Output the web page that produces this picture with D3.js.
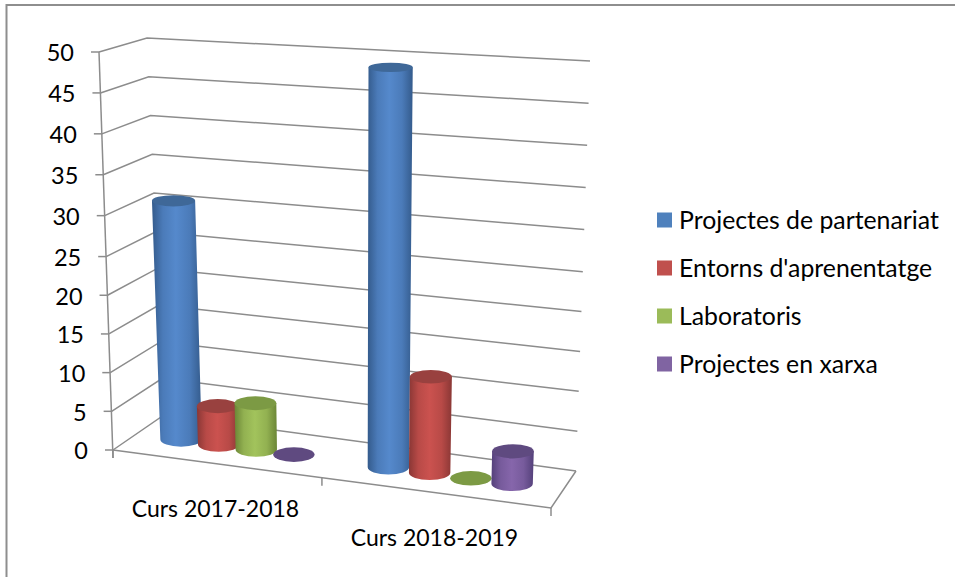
<!DOCTYPE html>
<html>
<head>
<meta charset="utf-8">
<script src="https://cdn.jsdelivr.net/npm/d3@7"></script>
<style>
  html, body { margin: 0; padding: 0; background: #fff; }
  svg { display: block; }
  text { font-family: Lato, "Open Sans", sans-serif; fill: #000; }
</style>
</head>
<body>
<svg class="chart"></svg>
<script>
var categories = ["Curs 2017-2018", "Curs 2018-2019"];
var seriesNames = ["Projectes de partenariat", "Entorns d'aprenentatge", "Laboratoris", "Projectes en xarxa"];
var partenariat = [31, 49];
var entorns = [5, 12];
var laboratoris = [6, 0];
var xarxa = [0, 4];
var yTicks = [0, 5, 10, 15, 20, 25, 30, 35, 40, 45, 50];

var seriesValues = [partenariat, entorns, laboratoris, xarxa];

// side, centre and lid colour of each cylinder
var edgeColors = ["#345b8c", "#8a3735", "#6b8636", "#54407a"];
var midColors = ["#5589cc", "#cb524f", "#a2c35c", "#8666ab"];
var lidColors = ["#3f6898", "#99413f", "#7c9a44", "#5f4a80"];
var keyColors = ["#4f81bd", "#c0504d", "#9bbb59", "#8064a2"];

var svgWidth = 955, svgHeight = 577;
var lineColor = "#8c8c8c";
var barDepth = 0.47;

var svg = d3.select("svg.chart")
    .attr("width", svgWidth)
    .attr("height", svgHeight);

// corners of the box: fl = front left, fr = front right, br, bl are the back ones
var floor = { fl: [113, 450], fr: [551, 508], br: [576, 471], bl: [164, 415] };
var roof = { fl: [99, 52], fr: [566, 75], br: [590, 61], bl: [147, 38] };

// the value axis is a little compressed towards the floor
var heightScale = d3.scaleLinear().domain([0, 25, 50]).range([0, 0.486, 1]);
// the first category takes a bit less than half of the floor
var depthX = d3.scaleLinear().domain([0, 0.5, 1]).range([0, 0.477, 1]);

function bilinear(q, u, v) {
    return [0, 1].map(function (i) {
        var front = q.fl[i] + (q.fr[i] - q.fl[i]) * u;
        var back = q.bl[i] + (q.br[i] - q.bl[i]) * u;
        return front + (back - front) * v;
    });
}

// u across the floor, v into the depth, value up the wall
function project(u, v, value) {
    var a = bilinear(floor, u, v), b = bilinear(roof, u, v), t = heightScale(value);
    return [a[0] + (b[0] - a[0]) * t, a[1] + (b[1] - a[1]) * t];
}

function seg(a, b) {
    return "M" + a[0] + "," + a[1] + "L" + b[0] + "," + b[1];
}

var xScale = d3.scaleBand().domain(categories).range([0, 1]);
var seriesScale = d3.scaleBand().domain(seriesNames).range([0, 1])
    .paddingInner(0).paddingOuter(0.7).align(0.48);
var ryScale = d3.scaleLinear().domain([0, 50]).range([7.3, 4.6]);

// frame, only top and left are visible
svg.append("path")
    .attr("d", "M955,5H6.5V577")
    .attr("fill", "none")
    .attr("stroke", "#8e8e8e")
    .attr("stroke-width", 2);

// gridlines on side wall and back wall
var grid = svg.append("g")
    .attr("fill", "none")
    .attr("stroke", lineColor)
    .attr("stroke-width", 1.5);

grid.selectAll("path.wall")
    .data(yTicks)
    .enter()
    .append("path")
    .attr("class", "wall")
    .attr("d", function (d) {
        var a = project(0, 0, d), b = project(0, 1, d), c = project(1, 1, d);
        return "M" + a + "L" + b + "L" + c;
    });

// value axis line and floor edges
grid.append("path").attr("d", seg(project(0, 0, 50), [floor.fl[0], floor.fl[1] + 8]));
grid.append("path").attr("d", "M" + floor.fl + "L" + floor.fr + "L" + floor.br);

// small ticks under the front edge
grid.selectAll("path.xtick")
    .data([0, 0.5, 1])
    .enter()
    .append("path")
    .attr("class", "xtick")
    .attr("d", function (d) {
        var p = project(depthX(d), 0, 0);
        return seg(p, [p[0], p[1] + 8]);
    });

// value axis, the ticks follow the tilted line
var yAxis = d3.axisLeft(d3.scaleLinear().domain([0, 50]).range([0, 1]))
    .tickValues(yTicks)
    .tickSize(8)
    .tickPadding(17);

var axisG = svg.append("g").call(yAxis);
axisG.select(".domain").remove();
axisG.selectAll(".tick")
    .attr("transform", function (d) { return "translate(" + project(0, 0, d) + ")"; });
axisG.selectAll(".tick line")
    .attr("stroke", lineColor)
    .attr("stroke-width", 1.5);
axisG.selectAll(".tick text")
    .style("font-family", "Lato")
    .style("font-size", "23.5px")
    .attr("dy", "0.4em")
    .attr("fill", "#000");

// cylinder shading
var defs = svg.append("defs");
seriesNames.forEach(function (name, s) {
    var soft = d3.interpolateRgb(edgeColors[s], midColors[s])(0.7);
    var grad = defs.append("linearGradient").attr("id", "cyl" + s);
    grad.append("stop").attr("offset", "0%").attr("stop-color", edgeColors[s]);
    grad.append("stop").attr("offset", "22%").attr("stop-color", soft);
    grad.append("stop").attr("offset", "48%").attr("stop-color", midColors[s]);
    grad.append("stop").attr("offset", "76%").attr("stop-color", soft);
    grad.append("stop").attr("offset", "100%").attr("stop-color", edgeColors[s]);
});

var bars = [];
categories.forEach(function (cat, c) {
    seriesNames.forEach(function (name, s) {
        bars.push({ cat: cat, series: name, s: s, value: seriesValues[s][c] });
    });
});

function barU(d) {
    return depthX(xScale(d.cat) + xScale.bandwidth() * (seriesScale(d.series) + seriesScale.step() / 2));
}

// same radius in both categories, only growing with the height
function radius(value) {
    var a = project(0, barDepth, value), b = project(1, barDepth, value);
    return (b[0] - a[0]) * xScale.bandwidth() * seriesScale.step() / 2 * 1.05;
}

var cyl = svg.selectAll("g.cyl")
    .data(bars)
    .enter()
    .append("g")
    .attr("class", "cyl");

cyl.filter(function (d) { return d.value > 0; })
    .append("path")
    .attr("fill", function (d) { return "url(#cyl" + d.s + ")"; })
    .attr("d", function (d) {
        var base = project(barU(d), barDepth, 0), top = project(barU(d), barDepth, d.value);
        var rb = radius(0), rt = radius(d.value), ry = ryScale(0);
        return "M" + (top[0] - rt) + "," + top[1] +
            "L" + (base[0] - rb) + "," + base[1] +
            "A" + rb + "," + ry + " 0 0 0 " + (base[0] + rb) + "," + base[1] +
            "L" + (top[0] + rt) + "," + top[1] + "Z";
    });

cyl.append("ellipse")
    .attr("fill", function (d) { return lidColors[d.s]; })
    .attr("cx", function (d) { return project(barU(d), barDepth, d.value)[0]; })
    .attr("cy", function (d) { return project(barU(d), barDepth, d.value)[1]; })
    .attr("rx", function (d) { return radius(d.value); })
    .attr("ry", function (d) { return ryScale(d.value); });

// category labels sit under the front edge
svg.selectAll("text.cat")
    .data(categories)
    .enter()
    .append("text")
    .attr("class", "cat")
    .attr("text-anchor", "middle")
    .style("font-size", "23px")
    .attr("x", function (d) { return project(depthX(xScale(d) + xScale.bandwidth() / 2), 0, 0)[0] - 2; })
    .attr("y", function (d) { return project(depthX(xScale(d) + xScale.bandwidth() / 2), 0, 0)[1] + 53; })
    .text(function (d) { return d; });

// legend
var legendY = d3.scalePoint().domain(seriesNames).range([220, 364]);

var legend = svg.selectAll("g.key")
    .data(seriesNames)
    .enter()
    .append("g")
    .attr("class", "key")
    .attr("transform", function (d) { return "translate(657," + legendY(d) + ")"; });

legend.append("rect")
    .attr("x", 0)
    .attr("y", -7.5)
    .attr("width", 15)
    .attr("height", 15)
    .attr("fill", function (d, i) { return keyColors[i]; });

legend.append("text")
    .attr("x", 22)
    .attr("y", 8.5)
    .style("font-size", "24.8px")
    .text(function (d) { return d; });
</script>
</body>
</html>
